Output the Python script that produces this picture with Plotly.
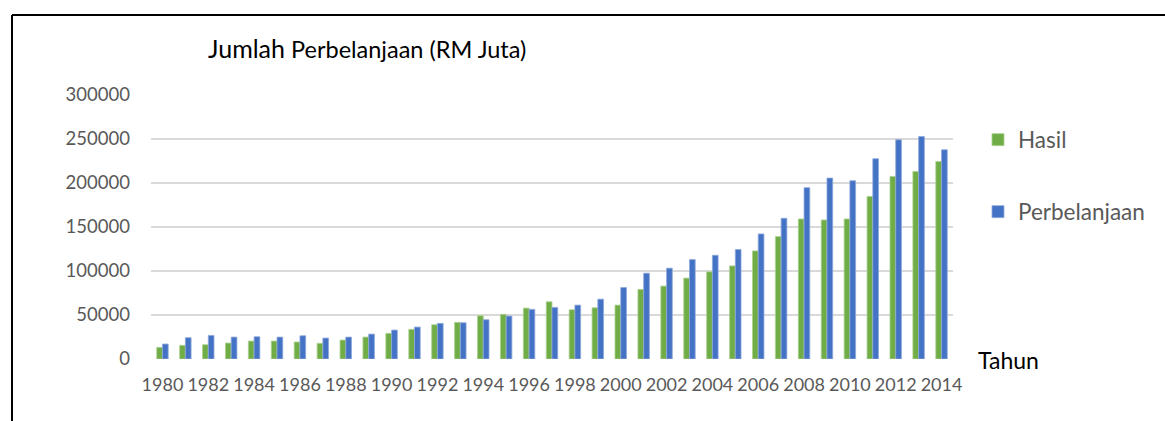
import plotly.graph_objects as go

years = list(range(1980, 2015))
hasil = [13200, 15500, 16200, 18100, 20400, 20400, 19300, 17800, 21500, 24900,
         29100, 33700, 38900, 41600, 49100, 50700, 57800, 65000, 55900, 58200,
         61200, 79000, 82800, 91900, 99000, 105800, 122800, 139100, 159100, 158000,
         159100, 184800, 207500, 213200, 224500]
perbelanjaan = [17000, 24200, 26800, 24900, 25300, 24900, 26400, 23800, 24900, 28300,
                32900, 36300, 40500, 41200, 44600, 48800, 56400, 58600, 61200, 68000,
                81300, 97500, 103200, 113000, 117900, 124400, 142100, 159900, 194700, 205600,
                202600, 227600, 249100, 252900, 237800]
x_ticks = list(range(1980, 2015, 2))
y_ticks = [0, 50000, 100000, 150000, 200000, 250000, 300000]

W, H = 1165, 421
L, R, T, B = 151, 212, 95, 62
pw, ph = W - L - R, H - T - B

def px(x):
    return (x - L) / pw

def py(y):
    return (H - B - y) / ph

FONT = "Lato"

fig = go.Figure()
fig.add_trace(go.Bar(x=years, y=hasil, name="Hasil", legend="legend",
                     marker=dict(color="#70AD47", line=dict(color="#A9D18E", width=0.8))))
fig.add_trace(go.Bar(x=years, y=perbelanjaan, name="Perbelanjaan", legend="legend2",
                     marker=dict(color="#4472C4", line=dict(color="#8FAADC", width=0.8))))

fig.update_layout(
    width=W, height=H,
    margin=dict(l=L, r=R, t=T, b=B, pad=0),
    paper_bgcolor="white", plot_bgcolor="white",
    barmode="group", bargap=0.5, bargroupgap=0.0,
    font=dict(family=FONT, color="#595959"),
    xaxis=dict(range=[1979.5, 2014.5], tickvals=x_ticks, tickformat="d",
               showgrid=False, zeroline=False, showline=False, ticks="",
               tickangle=0, automargin=False,
               ticklabelstandoff=13,
               tickfont=dict(family=FONT, size=18, color="#595959")),
    yaxis=dict(range=[0, 300000], tickvals=y_ticks, tickformat="d",
               showgrid=True, gridcolor="#D9D9D9", gridwidth=1.5,
               zeroline=False, showline=False, ticks="", automargin=False,
               ticklabelstandoff=20,
               tickfont=dict(family=FONT, size=18.5, color="#595959")),
    legend=dict(x=px(978), y=py(140), xanchor="left", yanchor="middle",
                font=dict(family=FONT, size=22.5, color="#595959"),
                bgcolor="rgba(0,0,0,0)"),
    legend2=dict(x=px(978), y=py(212), xanchor="left", yanchor="middle",
                 font=dict(family=FONT, size=22.5, color="#595959"),
                 bgcolor="rgba(0,0,0,0)"),
    showlegend=True,
)

fig.add_annotation(
    text="<span style='font-size:25px'>Jumlah</span> Perbelanjaan (RM Juta)",
    xref="paper", yref="paper", x=px(206), y=py(48),
    xanchor="left", yanchor="middle", showarrow=False,
    font=dict(family=FONT, size=23.5, color="#000000"))
fig.add_annotation(
    text="Tahun", xref="paper", yref="paper", x=px(976), y=py(360),
    xanchor="left", yanchor="middle", showarrow=False,
    font=dict(family=FONT, size=23, color="#000000"))

# chart border (top and left edges visible)
fig.add_shape(type="line", xref="paper", yref="paper",
              x0=px(12), y0=py(15), x1=px(W), y1=py(15),
              line=dict(color="black", width=2))
fig.add_shape(type="line", xref="paper", yref="paper",
              x0=px(12), y0=py(15), x1=px(12), y1=py(H),
              line=dict(color="black", width=2))

fig.write_html("out.html", config={"displayModeBar": False},
               post_script="document.body.style.margin='0';")
